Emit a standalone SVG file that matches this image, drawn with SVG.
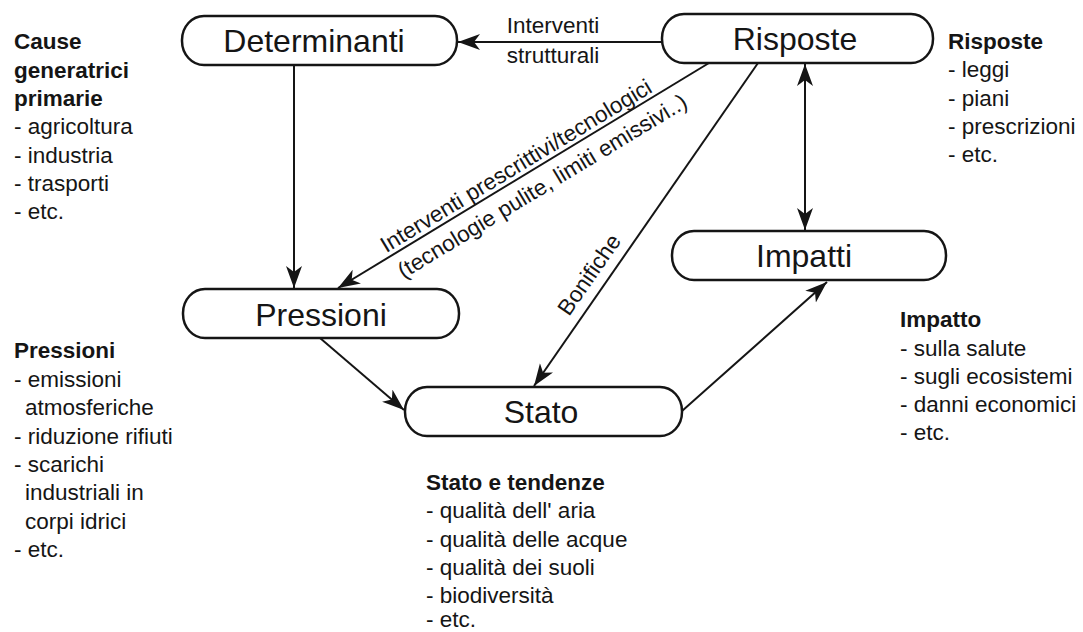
<svg xmlns="http://www.w3.org/2000/svg" width="1083" height="632" viewBox="0 0 1083 632">
<style>
text{font-family:"Liberation Sans",Arial,Helvetica,sans-serif;fill:#151515}
.node rect{fill:#fff;stroke:#151515;stroke-width:2.5}
.node text{font-size:32px;text-anchor:middle}
.t{font-size:22.5px}
.b{font-size:22.5px;font-weight:bold}
.lbl{font-size:22.5px;text-anchor:middle}
.conn line{stroke:#151515;stroke-width:2;fill:none}
</style>
<defs>
<marker id="ah" markerUnits="userSpaceOnUse" markerWidth="24" markerHeight="18" refX="22" refY="8" orient="auto-start-reverse">
<path d="M22,8 L0,0 L6,8 L0,16 Z" fill="#151515"/>
</marker>
</defs>
<rect width="1083" height="632" fill="#fff"/>
<g id="connectors" class="conn">
<line x1="662" y1="42" x2="458" y2="42" marker-end="url(#ah)"/>
<line x1="294" y1="65" x2="294" y2="288" marker-end="url(#ah)"/>
<line x1="709" y1="63" x2="338" y2="288" marker-end="url(#ah)"/>
<line x1="758" y1="63" x2="534" y2="386" marker-end="url(#ah)"/>
<line x1="805" y1="64" x2="805" y2="230" marker-start="url(#ah)" marker-end="url(#ah)"/>
<line x1="320" y1="338" x2="404" y2="410" marker-end="url(#ah)"/>
<line x1="682" y1="411" x2="827" y2="282" marker-end="url(#ah)"/>
<text class="lbl" x="553" y="33">Interventi</text>
<text class="lbl" x="553" y="63">strutturali</text>
<g transform="translate(525,175) rotate(-31.2)">
<text class="lbl" x="-3" y="-5" font-size="23">Interventi prescrittivi/tecnologici</text>
<text class="lbl" x="9" y="26" font-size="23">(tecnologie pulite, limiti emissivi..)</text>
</g>
<g transform="translate(611,274) rotate(-55.1)">
<text class="lbl" x="-13" y="-10">Bonifiche</text>
</g>
</g>
<g id="determinanti" class="node">
<rect x="182" y="16" width="275" height="49" rx="22" ry="24"/>
<text x="314" y="52">Determinanti</text>
</g>
<g id="risposte" class="node">
<rect x="662" y="14" width="271" height="49" rx="22" ry="24"/>
<text x="795" y="50">Risposte</text>
</g>
<g id="impatti" class="node">
<rect x="672" y="231" width="274" height="49" rx="22" ry="24"/>
<text x="804" y="267">Impatti</text>
</g>
<g id="pressioni" class="node">
<rect x="183" y="289" width="276" height="49" rx="22" ry="24"/>
<text x="321" y="326">Pressioni</text>
</g>
<g id="stato" class="node">
<rect x="405" y="387" width="277" height="49" rx="22" ry="24"/>
<text x="541" y="423">Stato</text>
</g>
<g id="note-cause">
<text class="b" x="14" y="49">Cause</text>
<text class="b" x="14" y="77.5">generatrici</text>
<text class="b" x="14" y="106">primarie</text>
<text class="t" x="14" y="134">- agricoltura</text>
<text class="t" x="14" y="162.5">- industria</text>
<text class="t" x="14" y="191">- trasporti</text>
<text class="t" x="14" y="219">- etc.</text>
</g>
<g id="note-pressioni">
<text class="b" x="14" y="358">Pressioni</text>
<text class="t" x="14" y="387">- emissioni</text>
<text class="t" x="25" y="415">atmosferiche</text>
<text class="t" x="14" y="443.5">- riduzione rifiuti</text>
<text class="t" x="14" y="472">- scarichi</text>
<text class="t" x="25" y="500">industriali in</text>
<text class="t" x="25" y="528.5">corpi idrici</text>
<text class="t" x="14" y="557">- etc.</text>
</g>
<g id="note-risposte">
<text class="b" x="948" y="49">Risposte</text>
<text class="t" x="948" y="77">- leggi</text>
<text class="t" x="948" y="105.5">- piani</text>
<text class="t" x="948" y="134">- prescrizioni</text>
<text class="t" x="948" y="162">- etc.</text>
</g>
<g id="note-impatto">
<text class="b" x="900" y="327">Impatto</text>
<text class="t" x="900" y="356">- sulla salute</text>
<text class="t" x="900" y="384">- sugli ecosistemi</text>
<text class="t" x="900" y="412">- danni economici</text>
<text class="t" x="900" y="440">- etc.</text>
</g>
<g id="note-stato">
<text class="b" x="426" y="490">Stato e tendenze</text>
<text class="t" x="426" y="518">- qualità dell' aria</text>
<text class="t" x="426" y="546.5">- qualità delle acque</text>
<text class="t" x="426" y="575">- qualità dei suoli</text>
<text class="t" x="426" y="603">- biodiversità</text>
<text class="t" x="426" y="627">- etc.</text>
</g>
</svg>
